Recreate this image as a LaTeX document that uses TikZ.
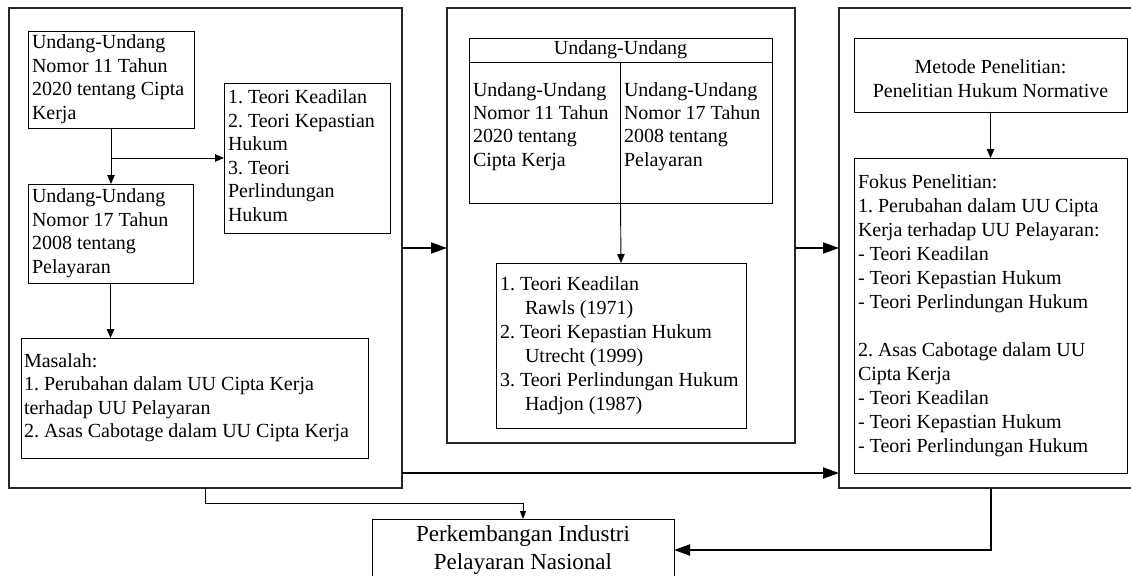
\documentclass[tikz,border=0pt]{standalone}
\usepackage{fontspec}
\setmainfont{Liberation Serif}
\usetikzlibrary{arrows.meta,calc}
\frenchspacing
\newcommand\lbox[2]{\makebox[#1][l]{\begin{tabular}{@{}l@{}}#2\end{tabular}}}
\newcommand\ttab[1]{\begin{tabular}[t]{@{}l@{}}#1\end{tabular}}
\begin{document}
\begin{tikzpicture}[x=1pt,y=-1pt,
  every node/.style={inner sep=0pt, outer sep=0pt, font=\fontsize{20}{23.5}\selectfont},
  panel/.style={draw=black!85, line width=1.2pt, anchor=north west},
  box/.style={draw, line width=0.9pt, anchor=north west},
  conn/.style={line width=0.9pt, -{Triangle[length=9pt,width=7.5pt]}},
  smallconn/.style={line width=0.9pt, -{Triangle[length=8pt,width=6pt]}},
  bigconn/.style={line width=2pt, -{Triangle[length=16pt,width=11pt]}},
]
\useasboundingbox (0,0) rectangle (1131,575);

% ---------- left panel ----------
\node[panel, minimum width=393pt, minimum height=480pt] (LP) at (9,8) {};
\node[box, minimum width=166pt, minimum height=97pt] (A) at (28,31)
  {\lbox{158pt}{Undang-Undang\\Nomor 11 Tahun\\2020 tentang Cipta\\Kerja}};
\node[box, minimum width=165pt, minimum height=99pt] (B) at (28,184)
  {\lbox{157pt}{Undang-Undang\\Nomor 17 Tahun\\2008 tentang\\Pelayaran}};
\node[box, minimum width=166pt, minimum height=150pt] (T) at (224,83)
  {\lbox{158pt}{1. Teori Keadilan\\2. Teori Kepastian\\Hukum\\3. Teori\\Perlindungan\\Hukum}};
\node[box, minimum width=347pt, minimum height=120pt] (M) at (21,338)
  {\lbox{341pt}{Masalah:\\1. Perubahan dalam UU Cipta Kerja\\terhadap UU Pelayaran\\2. Asas Cabotage dalam UU Cipta Kerja}};

\draw[conn] (A.south) -- (A.south |- B.north);
\draw[conn] (A.south |- T.west) -- (T.west);
\draw[conn] (B.south) -- (B.south |- M.north);

% ---------- middle panel ----------
\node[panel, minimum width=348pt, minimum height=435pt] (MP) at (447,8) {};
\node[box, minimum width=303pt, minimum height=24pt] (H) at (469,38) {Undang-Undang};
\node[box, minimum width=303pt, minimum height=141pt] (TB) at (469,62) {};
\draw[line width=0.9pt] (H.south) -- (TB.south);
\node[anchor=base west] (C1) at (473,96)
  {\ttab{Undang-Undang\\Nomor 11 Tahun\\2020 tentang\\Cipta Kerja}};
\node[anchor=base west] (C2) at (624,96)
  {\ttab{Undang-Undang\\Nomor 17 Tahun\\2008 tentang\\Pelayaran}};
\node[box, minimum width=250pt, minimum height=165pt, font=\fontsize{20}{24}\selectfont] (MT) at (496,263)
  {\lbox{242pt}{1. Teori Keadilan\\\hspace*{25pt}Rawls (1971)\\2. Teori Kepastian Hukum\\\hspace*{25pt}Utrecht (1999)\\3. Teori Perlindungan Hukum\\\hspace*{25pt}Hadjon (1987)}};
\draw[conn] (TB.south) -- (MT.north);

% ---------- right panel ----------
\node[panel, minimum width=304pt, minimum height=480pt] (RP) at (839,8) {};
\node[box, minimum width=273pt, minimum height=74pt] (MB) at (854,38) {};
\node[align=center] (MBt) at (990.5,78.5) {Metode Penelitian:\\Penelitian Hukum Normative};
\node[box, minimum width=273pt, minimum height=315pt, font=\fontsize{20}{24}\selectfont] (FB) at (854,158)
  {\lbox{265pt}{Fokus Penelitian:\\1. Perubahan dalam UU Cipta\\Kerja terhadap UU Pelayaran:\\- Teori Keadilan\\- Teori Kepastian Hukum\\- Teori Perlindungan Hukum\\ \\2. Asas Cabotage dalam UU\\Cipta Kerja\\- Teori Keadilan\\- Teori Kepastian Hukum\\- Teori Perlindungan Hukum}};
\draw[conn] (MB.south) -- (FB.north);

% ---------- bottom box ----------
\node[draw, line width=0.9pt, minimum width=302pt, minimum height=62pt, align=center,
      font=\fontsize{23}{28}\selectfont] (BB) at (523,550) {Perkembangan Industri\\Pelayaran Nasional};

% ---------- panel connectors ----------
\draw[bigconn] (LP.east) -- (LP.east -| MP.west);
\draw[bigconn] (MP.east |- LP.east) -- (LP.east -| RP.west);
\coordinate (lowL) at ($(LP.south east)+(0,-15)$);
\draw[bigconn] (lowL) -- (lowL -| RP.west);
\draw[smallconn] (LP.south) -- ++(0,15) -| (BB.north);
\draw[bigconn] (RP.south) -- (RP.south |- BB.east) -- (BB.east);
\end{tikzpicture}
\end{document}
